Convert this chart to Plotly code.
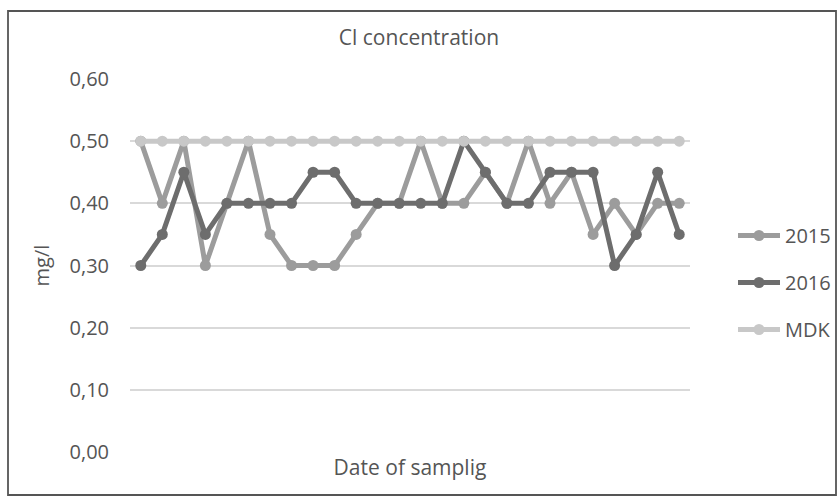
import plotly.graph_objects as go

samples = list(range(1, 27))
cl_2015 = [0.50, 0.40, 0.50, 0.30, 0.40, 0.50, 0.35, 0.30, 0.30, 0.30, 0.35, 0.40, 0.40,
           0.50, 0.40, 0.40, 0.45, 0.40, 0.50, 0.40, 0.45, 0.35, 0.40, 0.35, 0.40, 0.40]
cl_2016 = [0.30, 0.35, 0.45, 0.35, 0.40, 0.40, 0.40, 0.40, 0.45, 0.45, 0.40, 0.40, 0.40,
           0.40, 0.40, 0.50, 0.45, 0.40, 0.40, 0.45, 0.45, 0.45, 0.30, 0.35, 0.45, 0.35]
mdk = [0.50] * 26
y_ticks = [0.0, 0.1, 0.2, 0.3, 0.4, 0.5, 0.6]

series = [("2015", cl_2015, "#9c9c9c"), ("2016", cl_2016, "#6d6d6d"), ("MDK", mdk, "#c8c8c8")]

FONT = "Open Sans"
TXT = "#555555"

fig = go.Figure()
for name, vals, col in series:
    fig.add_trace(go.Scatter(
        x=samples, y=vals, name=name, mode="lines+markers",
        line=dict(color=col, width=5),
        marker=dict(color=col, size=11),
        legendgroup=name,
    ))

# outer chart border
W, H = 837, 496
L, R, T, B = 130, 147, 79, 44
pw, ph = W - L - R, H - T - B
def px_x(v):
    return (v - L) / pw
def px_y(v):
    return (H - B - v) / ph

fig.add_shape(type="rect", xref="paper", yref="paper",
              x0=px_x(8), x1=px_x(836), y0=px_y(495), y1=px_y(11),
              line=dict(color="#555555", width=1.8), fillcolor="rgba(0,0,0,0)", layer="below")

fig.update_layout(
    width=W, height=H,
    margin=dict(l=L, r=R, t=T, b=B, autoexpand=False),
    paper_bgcolor="white", plot_bgcolor="white",
    separators=",.",
    font=dict(family=FONT, color=TXT, size=20),
    title=dict(text="Cl concentration", xref="container", x=419 / W, xanchor="center",
               y=1 - 38 / H, yanchor="middle", font=dict(size=21, color=TXT)),
    xaxis=dict(range=[0.5, 26.5], showticklabels=False, showgrid=False, zeroline=False,
               showline=False, ticks="",
               title=dict(text="Date of samplig", font=dict(size=21, color=TXT), standoff=8)),
    yaxis=dict(range=[0, 0.6], tickvals=y_ticks, tickformat=".2f",
               showgrid=True, gridcolor="#d9d9d9", gridwidth=1.5, zeroline=False,
               showline=False, ticks="", ticklabelstandoff=20,
               tickfont=dict(size=20, color=TXT),
               title=dict(text="mg/l", font=dict(size=20, color=TXT), standoff=14)),
    legend=dict(x=px_x(733), xanchor="left", y=px_y(216), yanchor="top",
                font=dict(size=20, color=TXT), tracegroupgap=18, itemwidth=42,
                bgcolor="rgba(0,0,0,0)"),
    showlegend=True,
)

fig.write_html("out.html")
